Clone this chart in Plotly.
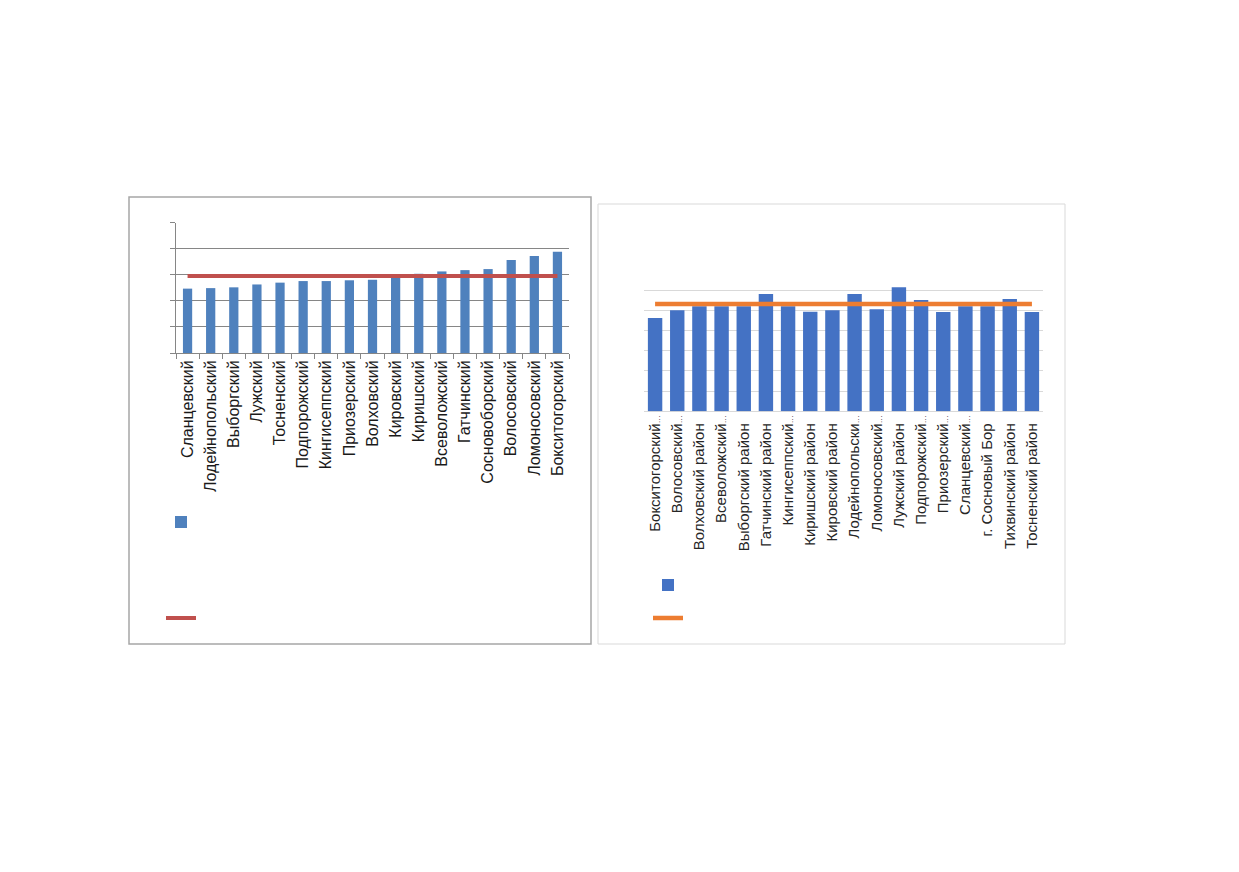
import plotly.graph_objects as go

W, H = 1223, 856
OFF = 8  # page body margin

left_categories = ["Сланцевский", "Лодейнопольский", "Выборгский", "Лужский", "Тосненский",
                   "Подпорожский", "Кингисеппский", "Приозерский", "Волховский", "Кировский",
                   "Киришский", "Всеволожский", "Гатчинский", "Сосновоборский", "Волосовский",
                   "Ломоносовский", "Бокситогорский"]
left_values = [2.47, 2.49, 2.52, 2.63, 2.70, 2.76, 2.76, 2.79, 2.81, 2.90,
               3.04, 3.13, 3.18, 3.22, 3.57, 3.72, 3.89]
left_avg = 2.95

right_categories = ["Бокситогорский…", "Волосовский…", "Волховский район", "Всеволожский…",
                    "Выборгский район", "Гатчинский район", "Кингисеппский…", "Киришский район",
                    "Кировский район", "Лодейнопольски…", "Ломоносовский…", "Лужский район",
                    "Подпорожский…", "Приозерский…", "Сланцевский…", "г. Сосновый Бор",
                    "Тихвинский район", "Тосненский район"]
right_values = [4.62, 5.00, 5.21, 5.21, 5.21, 5.81, 5.21, 4.93, 5.00, 5.81,
                5.05, 6.15, 5.51, 4.92, 5.21, 5.21, 5.56, 4.92]
right_avg = 5.31


def px(x):
    return (x - OFF) / W


def py(y):
    return 1 - (y - OFF) / H


# truncated labels: small ellipsis; full labels: invisible spacer of the same size
SMALL = "<span style='font-size:8px'>…</span>"
SPACER = "<span style='font-size:8px;fill:white'>…</span>"
right_ticktext = [c[:-1] + SMALL if c.endswith("…") else c + SPACER for c in right_categories]

fig = go.Figure()

fig.add_trace(go.Bar(x=left_categories, y=left_values, marker_color="#4F81BD", width=0.4,
                     marker_line_width=0, xaxis="x", yaxis="y", name=" ",
                     showlegend=True, legend="legend"))
fig.add_trace(go.Scatter(x=left_categories, y=[left_avg] * len(left_categories), mode="lines",
                         line=dict(color="#C0504D", width=4), xaxis="x", yaxis="y", name=" ",
                         showlegend=True, legend="legend2"))
fig.add_trace(go.Bar(x=right_categories, y=right_values, marker_color="#4472C4", width=0.65,
                     marker_line_width=0, xaxis="x2", yaxis="y2", name=" ",
                     showlegend=True, legend="legend3"))
fig.add_trace(go.Scatter(x=right_categories, y=[right_avg] * len(right_categories), mode="lines",
                         line=dict(color="#ED7D31", width=4.5), xaxis="x2", yaxis="y2", name=" ",
                         showlegend=True, legend="legend4"))

legend_common = dict(bgcolor="rgba(0,0,0,0)", borderwidth=0, xanchor="left", yanchor="middle",
                     font=dict(size=12, family="Liberation Sans"), itemwidth=30)

fig.update_layout(
    width=W, height=H,
    margin=dict(l=0, r=0, t=0, b=0),
    paper_bgcolor="white", plot_bgcolor="rgba(0,0,0,0)",
    xaxis=dict(domain=[px(176), px(569)], anchor="y", type="category",
               tickangle=-90, ticks="outside", tickson="boundaries", ticklen=5,
               tickcolor="#868686", showline=True, linecolor="#868686", linewidth=1,
               showgrid=False, tickfont=dict(family="Liberation Sans", size=16, color="#1a1a1a"),
               fixedrange=True),
    yaxis=dict(domain=[py(353), py(222.7)], anchor="x", range=[0, 5], dtick=1,
               showticklabels=False, ticks="outside", ticklen=5, tickcolor="#868686",
               showline=True, linecolor="#868686", linewidth=1,
               showgrid=True, gridcolor="#868686", gridwidth=1, zeroline=False, fixedrange=True),
    xaxis2=dict(domain=[px(644), px(1043)], anchor="y2", type="category",
                tickmode="array", tickvals=right_categories, ticktext=right_ticktext,
                tickangle=-90, ticks="", showline=False, showgrid=False,
                tickfont=dict(family="Liberation Sans", size=15, color="#262626"),
                fixedrange=True),
    yaxis2=dict(domain=[py(411.3), py(270)], anchor="x2", range=[0, 7], dtick=1,
                showticklabels=False, showline=False, showgrid=True, gridcolor="#d9d9d9",
                gridwidth=1, zeroline=True, zerolinecolor="#d9d9d9", zerolinewidth=1,
                fixedrange=True),
    legend=dict(x=px(181 - 20), y=py(522), **legend_common),
    legend2=dict(x=px(181 - 20), y=py(618), **legend_common),
    legend3=dict(x=px(668 - 20), y=py(585), **legend_common),
    legend4=dict(x=px(668 - 20), y=py(618), **legend_common),
    shapes=[
        dict(type="rect", xref="paper", yref="paper", x0=px(129), x1=px(591),
             y0=py(644), y1=py(197), line=dict(color="#a6a6a6", width=1.5), layer="below"),
        dict(type="rect", xref="paper", yref="paper", x0=px(598), x1=px(1065),
             y0=py(644), y1=py(204), line=dict(color="#d9d9d9", width=1), layer="below"),
    ],
)

fig.write_html("out.html")
